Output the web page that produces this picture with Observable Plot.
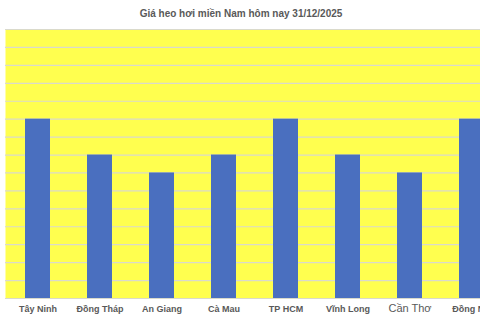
<!DOCTYPE html>
<html>
<head>
<meta charset="utf-8">
<script src="https://cdn.jsdelivr.net/npm/d3@7"></script>
<script src="https://cdn.jsdelivr.net/npm/@observablehq/plot@0.6"></script>
<style>
  html, body { margin: 0; padding: 0; background: #fff; width: 480px; height: 320px; overflow: hidden; }
  #title {
    position: absolute; left: 0; top: 0; width: 482px; height: 28px;
    font: bold 10px "Liberation Sans", Arial, sans-serif; line-height: 28px;
    text-align: center; color: #595959; white-space: nowrap;
  }
  #chart { position: absolute; left: 0; top: 28px; width: 480px; height: 292px; overflow: hidden; }
  #chart svg { max-width: none; }
</style>
</head>
<body>
<div id="title">Giá heo hơi miền Nam hôm nay 31/12/2025</div>
<div id="chart"></div>
<script>
// Giá heo hơi (nghìn đồng/kg) theo tỉnh/thành
const provinces = ["Tây Ninh", "Đồng Tháp", "An Giang", "Cà Mau", "TP HCM", "Vĩnh Long", "Cần Thơ", "Đồng Nai"];
const prices = [70, 68, 67, 68, 70, 68, 67, 70];
const yTicks = d3.range(60, 76, 1);

const data = provinces.map((p, i) => ({province: p, price: prices[i]}));
const bigLabel = "Cần Thơ";

const chart = Plot.plot({
  width: 510,
  height: 292,
  marginLeft: 5,
  marginRight: 6.6,
  marginTop: 1,
  marginBottom: 22,
  style: {background: "transparent", maxWidth: "none", fontFamily: "'Liberation Sans', Arial, sans-serif"},
  x: {domain: provinces, paddingInner: 0.6, paddingOuter: 0.3, axis: null},
  y: {domain: [60, 75], axis: null},
  marks: [
    Plot.frame({fill: "#ffff4f", stroke: null}),
    Plot.ruleY(yTicks, {stroke: "#dadacb", strokeWidth: 1.2}),
    Plot.barY(data, {x: "province", y1: 60, y2: "price", fill: "#4a6fbf"}),
    Plot.text(provinces.filter(p => p !== bigLabel), {
      x: d => d, frameAnchor: "bottom", dy: 13, fontSize: 9, fill: "#595959", fontWeight: "bold"
    }),
    Plot.text([bigLabel], {
      x: d => d, frameAnchor: "bottom", dy: 13, fontSize: 11, fill: "#595959"
    })
  ]
});
document.getElementById("chart").appendChild(chart);
</script>
</body>
</html>
